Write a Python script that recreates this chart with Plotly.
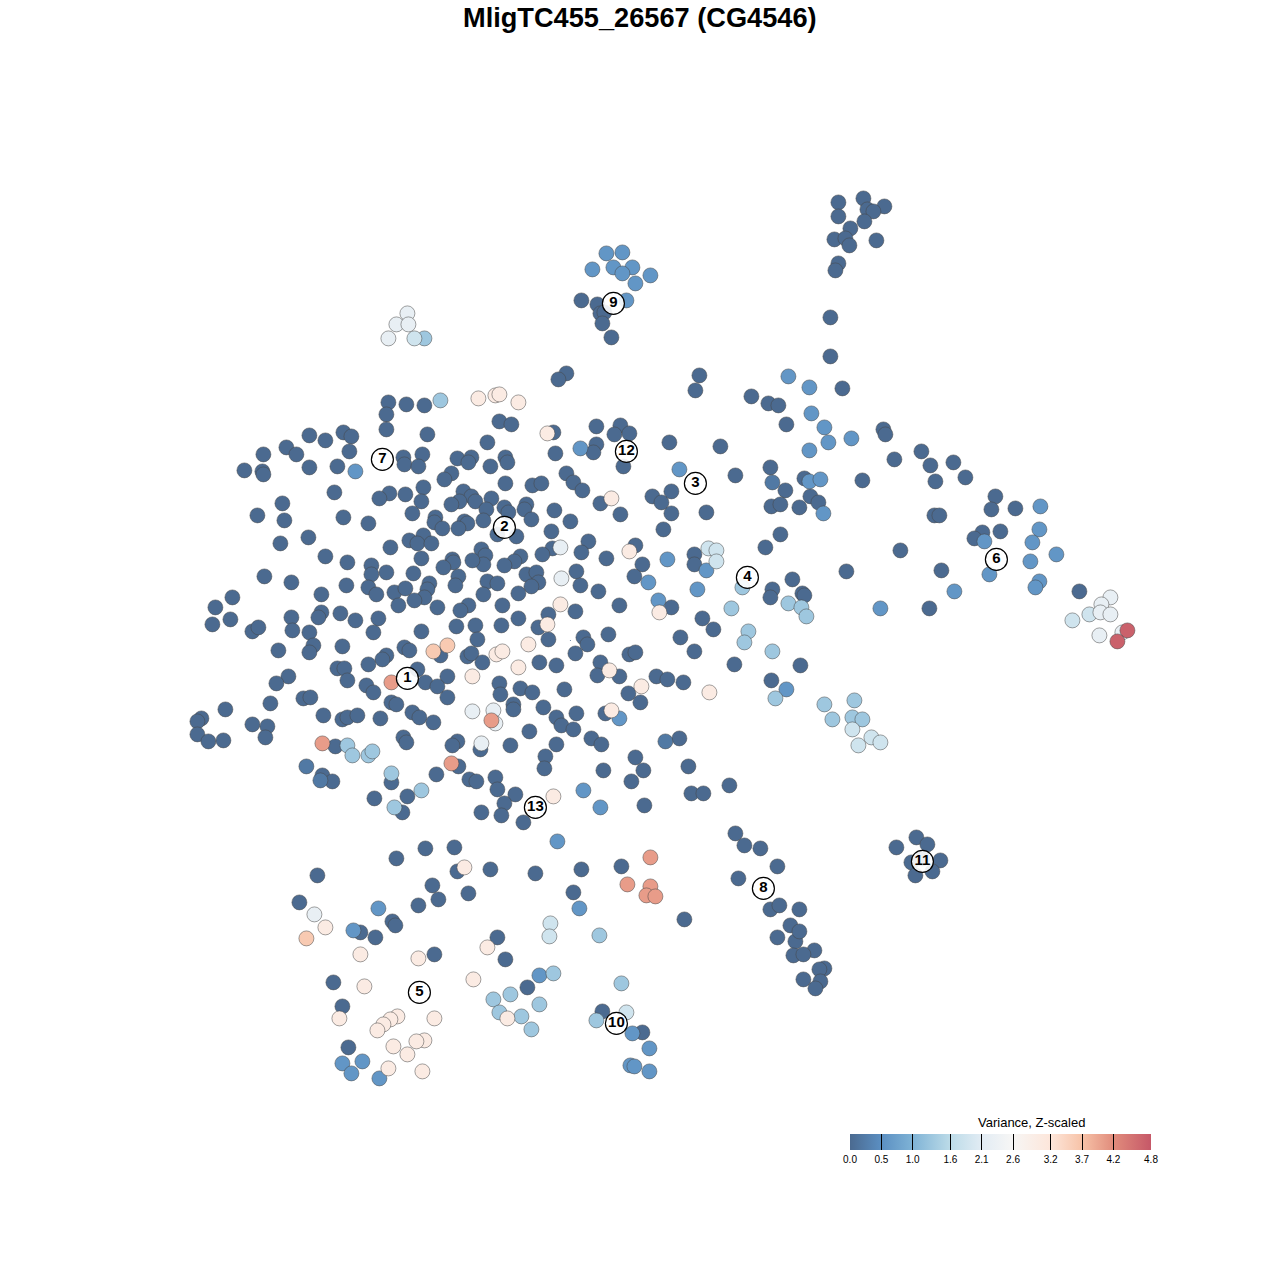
import plotly.graph_objects as go

# positions (canvas pixel units), grouped by estimated Z-scaled variance
dark = [(863,198),(838,202),(884,206),(867,209),(873,211),(838,216),(864,221),(850,228),(834,239),(845,238),(849,245),(876,240),(838,263),(835,270),(830,317),(830,356),(842,388),
(581,300),(597,304),(600,313),(604,312),(602,323),(611,337),(566,373),(558,379),(699,375),(695,390),(751,396),(768,403),(778,405),(786,424),(883,429),(885,434),(894,459),(921,451),(930,465),(953,462),(935,481),(965,477),(770,467),(804,478),(785,490),(810,496),(771,506),(780,504),(799,507),(818,502),(862,480),(735,475),(720,446),(669,442),
(995,496),(1015,508),(934,515),(939,515),(991,509),(982,532),(974,538),(1000,531),(900,550),(941,570),(846,571),(929,608),(1079,591),
(694,554),(694,564),(765,547),(780,534),(792,579),(772,589),(770,597),(802,593),(804,595),(734,664),(800,665),(771,680),
(735,833),(744,845),(760,848),(777,866),(738,878),(770,909),(779,905),(799,909),(790,925),(777,937),(795,941),(799,931),(814,950),(793,955),(803,954),(824,968),(819,969),(803,979),(820,981),(815,988),(684,919),
(916,837),(927,844),(896,847),(911,862),(940,860),(915,875),(932,871),(922,858),
(621,866),(581,869),(535,873),(490,869),(457,871),(454,847),(425,848),(396,858),(317,875),(432,885),(573,892),(438,899),(418,905),(468,893),(299,902),(360,932),(392,921),(395,925),(375,937),(497,937),(434,954),(505,959),(333,982),(527,987),(342,1006),(602,1011),(642,1032),(348,1047),
(388,402),(406,404),(424,405),(386,414),(499,421),(511,424),
(386,429),(309,435),(325,440),(343,432),(351,436),(427,434),(487,442),(286,447),(296,454),(263,454),(349,451),(403,457),(422,454),(457,458),(471,457),(468,462),(404,464),(418,466),(490,466),(244,470),(262,471),(263,474),(309,467),(337,466),(451,473),(444,479),(423,487),(334,492),(389,493),(405,494),(379,498),(421,501),(463,491),(471,496),(475,501),(459,501),(451,504),(491,498),(486,509),(483,520),(282,503),(257,515),(284,520),(343,517),(368,523),(412,513),(435,517),(434,522),(442,528),(464,521),(467,523),(458,528),(308,537),(280,543),(423,535),(409,540),(417,543),(431,543),(390,547),(481,549),(485,555),(483,564),(472,560),(452,559),(453,562),(443,567),(421,558),(325,556),(347,562),(371,565),(371,574),(386,572),(413,573),(458,576),(455,585),(487,581),(483,594),(346,585),(368,587),(376,594),(394,592),(405,588),(429,583),(427,589),(424,597),(414,600),(398,605),(437,607),(468,605),(460,610),(264,576),(291,582),(321,594),(232,597),(215,607),(230,619),(212,624),(291,617),(321,612),(318,617),(340,613),(355,620),(378,618),
(252,631),(258,627),(292,630),(309,632),(373,632),(421,631),(456,626),(475,625),(477,639),(278,650),(313,645),(309,652),(342,646),(404,647),(409,650),(386,655),(382,659),(368,664),(440,655),(467,656),(471,653),(482,662),(337,668),(344,668),(347,680),(417,669),(447,676),(425,682),(437,686),(366,685),(373,692),(447,697),(288,676),(276,683),(270,703),(303,698),(310,697),(391,702),(396,704),(412,712),(419,717),(433,722),(323,715),(342,719),(347,717),(357,715),(380,718),(225,709),(201,718),(197,721),(197,734),(208,741),(223,740),(252,724),(267,726),(265,737),(403,737),(406,742),(335,746),(457,741),(452,745),(480,749),(458,766),(322,775),(332,781),(436,774),(391,782),(469,779),(476,781),(407,796),(374,798),(402,812),(481,812),
(596,426),(620,425),(614,434),(629,433),(553,432),(596,444),(593,452),(555,453),(505,457),(507,462),(623,466),(566,473),(573,482),(582,490),(505,483),(532,485),(541,483),(600,503),(652,496),(661,502),(671,491),(620,514),(671,513),(706,512),(663,529),(504,507),(508,512),(526,504),(524,509),(531,519),(554,510),(570,521),(551,531),(497,534),(516,536),(588,541),(581,552),(552,548),(542,554),(520,556),(514,561),(504,565),(606,558),(635,545),(642,564),(634,576),(576,571),(580,585),(598,591),(526,574),(536,572),(538,582),(531,586),(497,583),(518,593),(502,605),(518,618),(548,614),(575,611),(619,605),(671,607),(702,618),
(501,625),(538,627),(548,639),(583,637),(587,644),(608,634),(575,653),(539,662),(556,665),(680,637),(713,629),(694,651),(629,654),(635,652),(600,662),(597,675),(619,676),(656,676),(667,679),(683,682),(628,693),(640,702),(499,683),(500,694),(520,688),(532,692),(564,689),(513,704),(513,709),(543,707),(556,717),(561,725),(573,729),(576,713),(605,713),(529,731),(510,745),(556,744),(591,738),(601,744),(679,738),(545,756),(544,768),(635,757),(643,770),(631,781),(603,770),(688,766),(729,785),(691,793),(703,793),(644,805),(495,777),(497,789),(515,794),(504,803),(501,815),(523,822)]
dark2 = [(772,482),(665,741),(306,766),(320,780)]
mid = [(606,253),(622,252),(613,267),(632,267),(592,269),(622,273),(650,275),(635,283),(626,300),(788,376),(809,387),(811,413),(824,427),(828,442),(851,438),(809,450),(809,481),(820,479),(823,513),(679,469),(355,471),(580,448),
(1040,506),(1039,529),(1032,542),(984,541),(1056,554),(1030,561),(989,574),(1039,581),(1035,587),(954,591),(880,608),(667,559),(706,570),(648,582),(697,589),(658,600),(786,689),(619,718),(583,790),(600,807),(557,841),(579,908),(378,908),(353,930),(539,975),(632,1033),(649,1048),(342,1063),(362,1061),(351,1073),(379,1078),(630,1065),(634,1066),(649,1071)]
light = [(424,338),(440,400),(742,587),(731,608),(788,603),(801,607),(806,616),(748,631),(744,642),(772,651),(775,698),(824,704),(854,700),(832,719),(852,717),(862,719),(347,745),(352,755),(368,755),(372,751),(391,773),(421,790),(394,807),(599,935),(553,973),(621,983),(510,994),(493,999),(539,1004),(499,1012),(521,1016),(531,1029),(596,1020)]
pale = [(414,338),(708,548),(716,550),(716,561),(852,729),(871,737),(880,742),(858,745),(1089,614),(1072,620),(550,923),(549,936),(626,1012)]
whitish = [(407,313),(396,324),(408,324),(388,338),(560,547),(561,578),(472,711),(493,710),(495,723),(481,743),(314,914),(1110,597),(1101,604),(1100,612),(1110,614),(1099,635),(1122,632)]
cream = [(478,398),(495,395),(499,394),(518,402),(547,433),(611,498),(629,551),(560,604),(547,624),(659,612),(528,644),(496,654),(502,651),(518,667),(609,670),(472,676),(641,686),(709,692),(611,710),(553,796),(464,867),(325,927),(487,947),(360,954),(418,958),(473,979),(364,986),(339,1018),(434,1018),(397,1016),(390,1019),(383,1024),(377,1030),(507,1018),(393,1046),(424,1040),(416,1041),(407,1054),(388,1068),(422,1071)]
peach = [(433,651),(447,645),(306,938)]
salmon = [(391,682),(322,743),(491,720),(451,763),(650,857),(627,884),(650,886),(646,895),(655,896)]
red = [(1127,630),(1117,641)]

groups = [(dark,0.0),(dark2,0.2),(mid,0.6),(light,1.3),(pale,1.85),(whitish,2.25),(cream,3.0),(peach,3.6),(salmon,4.05),(red,4.7)]

label_names = ["1","2","3","4","5","6","7","8","9","10","11","12","13"]
label_x = [407,504,695,747,419,996,382,763,613,616,922,626,535]
label_y = [678,527,483,577,992,559,459,888,303,1023,861,451,807]

tick_vals = [0.0,0.5,1.0,1.6,2.1,2.6,3.2,3.7,4.2,4.8]
tick_text = ["0.0","0.5","1.0","1.6","2.1","2.6","3.2","3.7","4.2","4.8"]
title_text = "MligTC455_26567 (CG4546)"
legend_title = "Variance, Z-scaled"

scale = [[0.0,"#4b6a90"],[0.104,"#5b8fc2"],[0.208,"#7fb3d6"],[0.333,"#bcdbe8"],[0.4375,"#e2ecf4"],[0.54,"#f7f6f5"],[0.667,"#fde6da"],[0.77,"#f7c3a8"],[0.875,"#e18c7c"],[1.0,"#c65868"]]

xs, ys, zs = [], [], []
for pts, v in groups:
    for (a, b) in pts:
        xs.append(a); ys.append(b); zs.append(v)

fig = go.Figure()
fig.add_trace(go.Scatter(x=xs, y=ys, mode="markers", hoverinfo="skip", showlegend=False,
    marker=dict(size=15, color=zs, cmin=0, cmax=4.8, colorscale=scale,
                line=dict(width=1, color="rgba(70,70,70,0.5)"),
                colorbar=dict(orientation="h", x=850/1280, xanchor="left", y=1-1181/1280, yanchor="bottom",
                              len=301, lenmode="pixels", thickness=16, thicknessmode="pixels", xpad=0, ypad=0,
                              outlinewidth=0, tickmode="array", tickvals=tick_vals, ticktext=tick_text,
                              ticks="inside", ticklen=16, tickwidth=1, tickcolor="black",
                              tickfont=dict(family="Liberation Sans, Arial", size=10, color="black")))))
fig.add_trace(go.Scatter(x=[570], y=[640], mode="markers", hoverinfo="skip", showlegend=False,
    marker=dict(size=1, color="#4b6a90")))
fig.add_trace(go.Scatter(x=label_x, y=label_y, mode="markers+text", text=label_names, hoverinfo="skip", showlegend=False,
    textposition="middle center", textfont=dict(family="Liberation Sans, Arial", size=15, color="black", weight="bold"),
    marker=dict(size=22, color="rgba(255,255,255,0.9)", line=dict(width=1.2, color="black"))))
fig.update_layout(width=1280, height=1280, margin=dict(l=0,r=0,t=0,b=0), paper_bgcolor="white", plot_bgcolor="white",
    xaxis=dict(range=[-0.4,1279.6], visible=False), yaxis=dict(range=[1279.6,-0.4], visible=False),
    annotations=[
        dict(x=640, y=17.5, xref="x", yref="y", text="<b>"+title_text+"</b>", showarrow=False,
             font=dict(family="Liberation Sans, Arial", size=27.2, color="black")),
        dict(x=1031, y=1122, xref="x", yref="y", text=legend_title, showarrow=False,
             font=dict(family="Liberation Sans, Arial", size=13, color="black")),
    ])
fig.write_html("out.html", post_script="document.body.style.margin='0';", config=dict(displayModeBar=False))
